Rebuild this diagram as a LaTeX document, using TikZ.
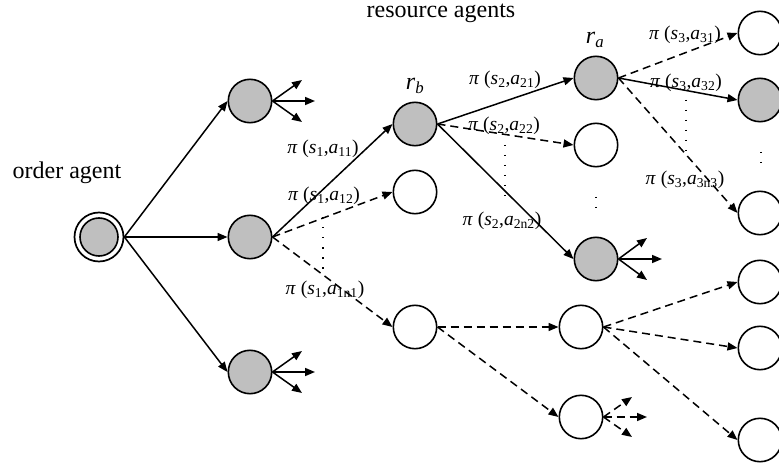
\documentclass[tikz,border=0pt]{standalone}
\usepackage{fontspec}
\setmainfont{Liberation Serif}
\usetikzlibrary{arrows.meta}
\newcommand{\pilab}[2]{\textit{π} (\textit{s}\textsubscript{#1},\textit{a}\textsubscript{#2})}
\tikzset{
  gnode/.style={circle,draw,line width=1.6pt,fill=gray!50,minimum size=43.4pt,inner sep=0pt},
  wnode/.style={circle,draw,line width=1.6pt,fill=white,minimum size=43.4pt,inner sep=0pt},
  sarr/.style={line width=1.5pt,-{Triangle[length=10pt,width=8pt]}},
  darr/.style={sarr,dash pattern=on 8pt off 5pt},
  lab/.style={font=\fontsize{19.5}{21}\selectfont,inner sep=0pt},
  big/.style={font=\fontsize{24}{26}\selectfont,inner sep=0pt},
  dots/.style={line width=1.5pt,dash pattern=on 1.5pt off 8.5pt},
}
\begin{document}
\begin{tikzpicture}[x=1pt,y=-1pt]
\clip (0,0) rectangle (779,465);
% nodes
\node[circle,draw,line width=1.7pt,fill=white,minimum size=49pt,inner sep=0pt] (O) at (99,237) {};
\node[gnode,minimum size=38pt] (Oi) at (99,237) {};
\node[gnode] (A1) at (250,101) {};
\node[gnode] (A2) at (250,237) {};
\node[gnode] (A3) at (250,372) {};
\node[gnode] (B1) at (415,124) {};
\node[wnode] (B2) at (415,192) {};
\node[wnode] (B3) at (415,327) {};
\node[gnode] (C1) at (596,78) {};
\node[wnode] (C2) at (596,145) {};
\node[gnode] (C3) at (596,259) {};
\node[wnode] (C4) at (581,327) {};
\node[wnode] (C5) at (581,417) {};
\node[wnode] (D1) at (760,33) {};
\node[gnode] (D2) at (760,100) {};
\node[wnode] (D3) at (760,213) {};
\node[wnode] (D4) at (760,282) {};
\node[wnode] (D5) at (760,348) {};
\node[wnode] (D6) at (760,440) {};
% texts
\node[big,anchor=base] (tord) at (67,179) {order agent};
\node[big,anchor=base] (tres) at (441,18) {resource agents};
\node[big] (trb) at (415,86) {\textit{r}\textsubscript{\textit{b}}};
\node[big] (tra) at (595,40) {\textit{r}\textsubscript{\textit{a}}};
% free ends of fan-outs
\coordinate (f1a) at (302,80); \coordinate (f1b) at (315,101); \coordinate (f1c) at (302,122);
\coordinate (f3a) at (302,351); \coordinate (f3b) at (315,372); \coordinate (f3c) at (302,393);
\coordinate (fCa) at (647,238); \coordinate (fCb) at (662,259); \coordinate (fCc) at (647,280);
\coordinate (fDa) at (632,397); \coordinate (fDb) at (647,417); \coordinate (fDc) at (632,437);
% connectors
\draw[sarr] (O.east) -- (A1.west);
\draw[sarr] (O.east) -- (A2.west);
\draw[sarr] (O.east) -- (A3.west);
\foreach \t in {f1a,f1b,f1c} \draw[sarr] (A1.east) -- (\t);
\foreach \t in {f3a,f3b,f3c} \draw[sarr] (A3.east) -- (\t);
\draw[sarr] (A2.east) -- (B1.west);
\draw[darr] (A2.east) -- (B2.west);
\draw[darr] (A2.east) -- (B3.west);
\draw[sarr] (B1.east) -- (C1.west);
\draw[darr] (B1.east) -- (C2.west);
\draw[sarr] (B1.east) -- (C3.west);
\draw[darr] (C1.east) -- (D1.west);
\draw[sarr] (C1.east) -- (D2.west);
\draw[darr] (C1.east) -- (D3.west);
\foreach \t in {fCa,fCb,fCc} \draw[sarr] (C3.east) -- (\t);
\draw[darr] (B3.east) -- (C4.west);
\draw[darr] (B3.east) -- (C5.west);
\draw[darr] (C4.east) -- (D4.west);
\draw[darr] (C4.east) -- (D5.west);
\draw[darr] (C4.east) -- (D6.west);
\foreach \t in {fDa,fDb,fDc} \draw[darr] (C5.east) -- (\t);
% labels
\node[lab] (l11) at (323,149) {\pilab{1}{11}};
\node[lab] (l12) at (324,196) {\pilab{1}{12}};
\node[lab] (l1n) at (325,290) {\pilab{1}{1n1}};
\node[lab] (l21) at (505,80) {\pilab{2}{21}};
\node[lab] (l22) at (504,126) {\pilab{2}{22}};
\node[lab] (l2n) at (502,221) {\pilab{2}{2n2}};
\node[lab] (l31) at (685,35) {\pilab{3}{31}};
\node[lab] (l32) at (686,83) {\pilab{3}{32}};
\node[lab] (l3n) at (685,180) {\pilab{3}{3n3}};
% dots
\coordinate (d1t) at (323,217); \coordinate (d1b) at (323,275);
\coordinate (d2t) at (505,145); \coordinate (d2b) at (505,205);
\coordinate (d3t) at (686,100); \coordinate (d3b) at (686,160);
\coordinate (d4t) at (596,197); \coordinate (d4b) at (596,210);
\coordinate (d5t) at (761,152); \coordinate (d5b) at (761,165);
\draw[dots] (d1t) -- (d1b);
\draw[dots] (d2t) -- (d2b);
\draw[dots] (d3t) -- (d3b);
\draw[dots] (d4t) -- (d4b);
\draw[dots] (d5t) -- (d5b);
\end{tikzpicture}
\end{document}
